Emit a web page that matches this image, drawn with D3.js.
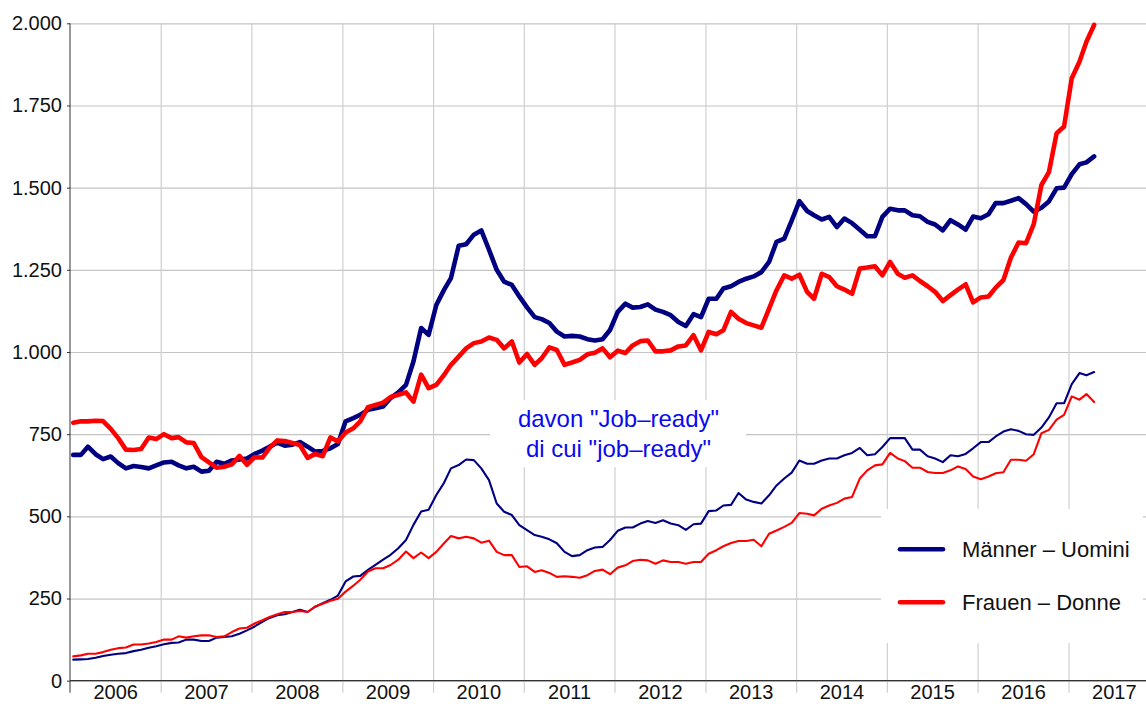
<!DOCTYPE html>
<html>
<head>
<meta charset="utf-8">
<script src="https://cdn.jsdelivr.net/npm/d3@7"></script>
<style>
  html, body { margin: 0; padding: 0; background: #fff; }
  svg { display: block; font-family: "Liberation Sans", Arial, sans-serif; }
</style>
</head>
<body>
<svg id="chart" width="1146" height="704"></svg>
<script>
// ---- data (monthly, Jan 2006 – Apr 2017) ----
const startYear = 2006;
const yearLabels = ["2006","2007","2008","2009","2010","2011","2012","2013","2014","2015","2016","2017"];
const yTicks = [0, 250, 500, 750, 1000, 1250, 1500, 1750, 2000];
const seriesNames = ["Männer – Uomini", "Frauen – Donne"];
const annotationLines = ["davon \"Job–ready\"", "di cui \"job–ready\""];

const maenner = [
  687, 687, 712, 689, 674, 682, 662, 646, 653, 650, 646, 655,
  664, 666, 655, 646, 651, 636, 639, 666, 660, 670, 673, 676,
  690, 700, 712, 724, 715, 718, 726, 712, 697, 699, 707, 720,
  789, 799, 809, 824, 829, 834, 860, 877, 900, 971, 1073, 1052,
  1143, 1189, 1225, 1323, 1328, 1357, 1370, 1311, 1250, 1214, 1204, 1169,
  1136, 1106, 1100, 1088, 1062, 1047, 1049, 1047, 1039, 1035, 1039, 1067,
  1122, 1147, 1135, 1137, 1145, 1129, 1122, 1112, 1091, 1079, 1115, 1106,
  1162, 1162, 1193, 1200, 1213, 1223, 1230, 1243, 1274, 1335, 1345, 1400,
  1459, 1429, 1416, 1403, 1411, 1380, 1406, 1392, 1372, 1352, 1352, 1411,
  1436, 1431, 1431, 1416, 1413, 1396, 1388, 1370, 1401, 1388, 1372, 1412,
  1407, 1419, 1453, 1453, 1460, 1468, 1450, 1427, 1439, 1458, 1498, 1500,
  1541, 1571, 1577, 1595
];
const frauen = [
  785, 789, 789, 791, 790, 766, 738, 703, 702, 705, 740, 735,
  750, 738, 741, 725, 723, 680, 664, 648, 651, 658, 684, 657,
  680, 679, 708, 731, 729, 723, 717, 678, 690, 683, 740, 728,
  755, 768, 789, 832, 839, 846, 863, 870, 877, 849, 931, 890,
  900, 930, 961, 986, 1011, 1027, 1032, 1044, 1037, 1011, 1032, 968,
  994, 961, 981, 1014, 1006, 961, 968, 976, 993, 998, 1011, 984,
  1004, 997, 1020, 1033, 1035, 1002, 1002, 1005, 1017, 1020, 1051, 1005,
  1061, 1054, 1066, 1122, 1101, 1088, 1081, 1074, 1132, 1188, 1233, 1223,
  1235, 1183, 1162, 1238, 1228, 1200, 1190, 1177, 1254, 1257, 1261, 1233,
  1274, 1238, 1226, 1233, 1216, 1200, 1183, 1155, 1173, 1190, 1206, 1151,
  1166, 1169, 1196, 1219, 1287, 1333, 1331, 1389, 1508, 1547, 1665, 1686,
  1833, 1883, 1944, 1995
];
const maennerJR = [
  64, 65, 66, 70, 75, 79, 82, 84, 90, 94, 100, 105,
  111, 115, 116, 125, 125, 121, 121, 131, 133, 135, 143, 153,
  165, 179, 191, 199, 202, 209, 216, 209, 225, 236, 246, 259,
  302, 317, 319, 337, 352, 368, 383, 403, 428, 474, 515, 520,
  565, 602, 646, 656, 673, 671, 646, 610, 539, 514, 504, 473,
  458, 443, 438, 430, 418, 392, 379, 382, 397, 405, 407, 428,
  456, 466, 466, 478, 486, 480, 488, 478, 473, 459, 476, 478,
  516, 518, 533, 535, 571, 551, 544, 539, 564, 594, 615, 633,
  670, 660, 660, 670, 676, 676, 686, 693, 708, 686, 689, 711,
  738, 738, 738, 703, 703, 683, 676, 665, 686, 683, 690, 707,
  726, 726, 743, 758, 765, 760, 750, 748, 770, 801, 844, 844,
  902, 936, 929, 939
];
const frauenJR = [
  74, 77, 82, 82, 87, 94, 99, 101, 110, 110, 113, 118,
  125, 125, 135, 131, 135, 138, 138, 133, 135, 148, 159, 161,
  174, 184, 194, 202, 209, 209, 212, 209, 226, 234, 243, 249,
  271, 289, 307, 332, 342, 342, 352, 368, 393, 373, 390, 373,
  392, 418, 440, 433, 438, 433, 420, 426, 392, 382, 382, 346,
  348, 331, 336, 328, 316, 318, 316, 313, 321, 334, 338, 324,
  344, 351, 364, 368, 366, 356, 366, 361, 361, 356, 361, 361,
  386, 397, 409, 419, 425, 425, 429, 409, 447, 457, 468, 480,
  510, 508, 503, 523, 533, 541, 554, 559, 615, 640, 655, 658,
  693, 676, 668, 648, 648, 635, 632, 632, 640, 652, 644, 621,
  613, 621, 631, 634, 672, 672, 669, 689, 753, 763, 794, 809,
  865, 855, 872, 848
];

// ---- layout ----
const W = 1146, H = 704;
const plotLeft = 70, plotTop = 23.3, plotBottom = 680.7;
const yearPx = 90.77;
const NAVY = "#000080", RED = "#ff0000";

const svg = d3.select("#chart");

const x = d3.scaleTime()
  .domain([new Date(startYear, 0, 1), new Date(startYear + 12, 0, 1)])
  .range([plotLeft, plotLeft + 12 * yearPx]);
const y = d3.scaleLinear().domain([0, 2000]).range([plotBottom, plotTop]);

const monthDate = i => new Date(startYear, i, 14);
const yearStarts = yearLabels.map((_, k) => new Date(startYear + k, 0, 1));
const yearMids = yearLabels.map((_, k) => new Date(startYear + k, 6, 2));

const de = d3.formatLocale({ decimal: ",", thousands: ".", grouping: [3], currency: ["", " €"] });
const fmt = de.format(",d");

// horizontal grid
svg.append("g")
  .attr("transform", `translate(${plotLeft},0)`)
  .call(d3.axisLeft(y).tickValues(yTicks).tickSize(-(W - plotLeft)).tickFormat(""))
  .call(g => g.select(".domain").remove())
  .call(g => g.selectAll("line").attr("stroke", "#c4c4c4").attr("stroke-width", 1.2));

// vertical grid (extends below the axis)
svg.append("g")
  .attr("transform", `translate(0,${plotBottom + 12})`)
  .call(d3.axisBottom(x).tickValues(yearStarts.slice(1)).tickSize(-(plotBottom + 12 - plotTop)).tickFormat(""))
  .call(g => g.select(".domain").remove())
  .call(g => g.selectAll("line").attr("stroke", "#cfcfcf").attr("stroke-width", 1.2));

// white boxes behind annotation and legend
svg.append("rect").attr("x", 490).attr("y", 400).attr("width", 256).attr("height", 67).attr("fill", "#fff");
svg.append("rect").attr("x", 881).attr("y", 509).attr("width", 262).attr("height", 134).attr("fill", "#fff");

// y axis
svg.append("g")
  .attr("transform", `translate(${plotLeft},0)`)
  .call(d3.axisLeft(y).tickValues(yTicks).tickSize(3).tickPadding(5).tickFormat(fmt))
  .call(g => g.select(".domain").attr("stroke", "#333").attr("d", `M0,${plotTop}V${plotBottom + 12}`))
  .call(g => g.selectAll("line").attr("stroke", "#333"))
  .call(g => g.selectAll("text").attr("font-size", 20).attr("fill", "#111")
    .attr("font-family", "Liberation Sans, Arial, sans-serif"));

// x axis line
svg.append("g")
  .attr("transform", `translate(0,${plotBottom})`)
  .call(d3.axisBottom(x).tickValues([]).tickSizeOuter(0))
  .call(g => g.select(".domain").attr("stroke", "#333").attr("stroke-width", 1.3)
    .attr("d", `M${plotLeft},0H${W}`));

// year labels
svg.append("g")
  .attr("transform", `translate(0,${plotBottom})`)
  .call(d3.axisBottom(x).tickValues(yearMids).tickSize(0).tickPadding(4.5)
    .tickFormat((d, i) => yearLabels[i]))
  .call(g => g.select(".domain").remove())
  .call(g => g.selectAll("text").attr("font-size", 20).attr("fill", "#111")
    .attr("font-family", "Liberation Sans, Arial, sans-serif"));

// lines
const line = d3.line().x((d, i) => x(monthDate(i))).y(d => y(d));
const series = [
  { data: maenner, color: NAVY, w: 4.6 },
  { data: frauen, color: RED, w: 4.6 },
  { data: maennerJR, color: NAVY, w: 2.1 },
  { data: frauenJR, color: RED, w: 2.1 }
];
svg.append("g").selectAll("path").data(series).join("path")
  .attr("d", s => line(s.data))
  .attr("fill", "none")
  .attr("stroke", s => s.color)
  .attr("stroke-width", s => s.w)
  .attr("stroke-linejoin", "round")
  .attr("stroke-linecap", "round");

// annotation
svg.append("g").selectAll("text").data(annotationLines).join("text")
  .attr("x", 618.5)
  .attr("y", (d, i) => 419 + i * 30)
  .attr("dy", "0.35em")
  .attr("text-anchor", "middle")
  .attr("font-size", 24)
  .attr("fill", "#0a0aee")
  .text(d => d);

// legend
const lg = svg.append("g").selectAll("g").data(seriesNames).join("g")
  .attr("transform", (d, i) => `translate(900,${549.3 + i * 53})`);
lg.append("line").attr("x1", 0).attr("x2", 43).attr("y1", 0).attr("y2", 0)
  .attr("stroke", (d, i) => i === 0 ? NAVY : RED).attr("stroke-width", 4.6).attr("stroke-linecap", "round");
lg.append("text").attr("x", 62).attr("dy", "0.35em").attr("font-size", 22).attr("fill", "#111").text(d => d);
</script>
</body>
</html>
